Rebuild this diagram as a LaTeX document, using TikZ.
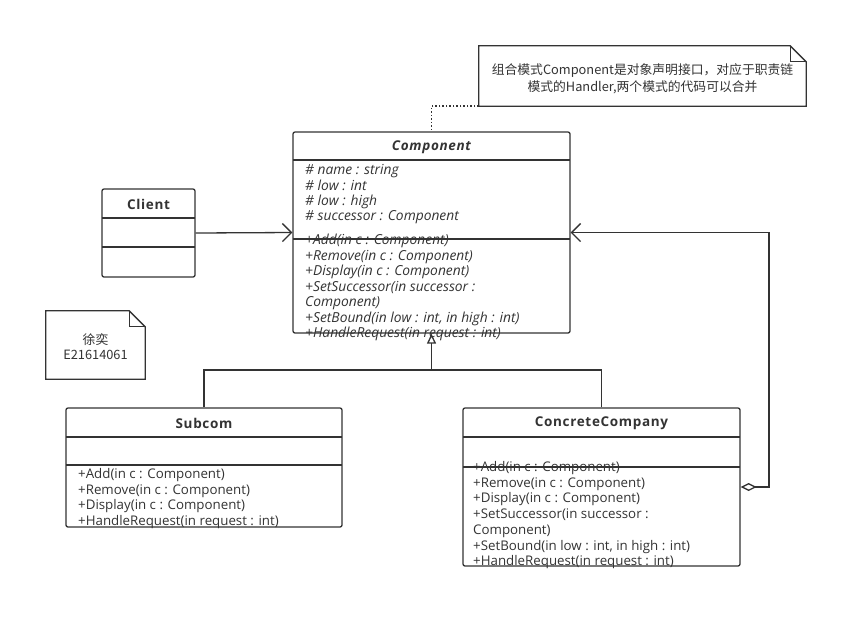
\documentclass[tikz,border=0pt]{standalone}
\usepackage{fontspec}
\setmainfont{Open Sans}
\newfontfamily\cjk{Noto Sans CJK SC}
\usetikzlibrary{arrows.meta}
\definecolor{ink}{HTML}{333333}
\tikzset{
  cls/.style={draw=ink, line width=1.3pt, rounded corners=2pt, rectangle, inner sep=0pt},
  sep/.style={draw=ink, line width=1.3pt},
  ttl/.style={font=\fontsize{13.5}{15}\selectfont\bfseries\addfontfeature{LetterSpace=5}, text=ink, inner sep=0pt},
  mem/.style={font=\fontsize{13.3}{15}\selectfont, text=ink, inner sep=0pt, anchor=base west},
  imem/.style={mem, font=\fontsize{13.8}{15}\selectfont\itshape},
  conn/.style={draw=ink, line width=1.3pt},
  notetxt/.style={font=\cjk\fontsize{12.8}{14}\selectfont, text=ink, inner sep=0pt}
}
\begin{document}
\begin{tikzpicture}[x=1pt,y=-1pt]
\useasboundingbox[fill=white] (0,0) rectangle (864,625);

% Component
\node[cls, minimum width=277pt, minimum height=201pt] (comp) at (431.5,232.5) {};
\draw[sep] (293,160) -- (570,160);
\draw[sep] (293,239) -- (570,239);
\node[ttl, font=\fontsize{13.5}{15}\selectfont\bfseries\itshape\addfontfeature{LetterSpace=5}] (compt) at (431.5,147) {Component};
\foreach \t [count=\i] in {{\# name : string},{\# low : int},{\# low : high},{\# successor : Component}}
  \node[imem] (ca\i) at (305,159.2+15.4*\i) {\t};
\foreach \t [count=\i] in {{+Add(in c : Component)},{+Remove(in c : Component)},{+Display(in c : Component)},{+SetSuccessor(in successor :},{Component)},{+SetBound(in low : int, in high : int)},{+HandleRequest(in request : int)}}
  \node[imem] (cm\i) at (305,229+15.5*\i) {\t};

% Client
\node[cls, minimum width=93pt, minimum height=88pt] (client) at (148.5,233) {};
\draw[sep] (102,218) -- (195,218);
\draw[sep] (102,247) -- (195,247);
\node[ttl] (clientt) at (148.5,204) {Client};

% Subcom
\node[cls, minimum width=276pt, minimum height=119pt] (sub) at (204,467.5) {};
\draw[sep] (66,437) -- (342,437);
\draw[sep] (66,465) -- (342,465);
\node[ttl] (subt) at (204,423) {Subcom};
\foreach \t [count=\i] in {{+Add(in c : Component)},{+Remove(in c : Component)},{+Display(in c : Component)},{+HandleRequest(in request : int)}}
  \node[mem] (sm\i) at (78,463+15.5*\i) {\t};

% ConcreteCompany
\node[cls, minimum width=277pt, minimum height=158pt] (conc) at (601.5,487) {};
\draw[sep] (463,437) -- (740,437);
\draw[sep] (463,467) -- (740,467);
\node[ttl] (conct) at (601.5,423) {ConcreteCompany};
\foreach \t [count=\i] in {{+Add(in c : Component)},{+Remove(in c : Component)},{+Display(in c : Component)},{+SetSuccessor(in successor :},{Component)},{+SetBound(in low : int, in high : int)},{+HandleRequest(in request : int)}}
  \node[mem] (km\i) at (473,455.8+15.7*\i) {\t};

% Note 1
\node[minimum width=327pt, minimum height=60pt, inner sep=0pt] (n1) at (642.5,76) {};
\draw[conn] (n1.south west) -- (n1.north west) -- ([xshift=-16pt]n1.north east) -- ([yshift=-16pt]n1.north east) -- (n1.south east) -- cycle;
\draw[conn] ([xshift=-16pt]n1.north east) -- ([xshift=-16pt,yshift=-16pt]n1.north east) -- ([yshift=-16pt]n1.north east);
\node[notetxt] (n1a) at (642.5,71) {组合模式Component是对象声明接口，对应于职责链};
\node[notetxt] (n1b) at (642.5,87) {模式的Handler,两个模式的代码可以合并};

% Note 2
\node[minimum width=99pt, minimum height=68pt, inner sep=0pt] (n2) at (95.5,345) {};
\draw[conn] (n2.south west) -- (n2.north west) -- ([xshift=-16pt]n2.north east) -- ([yshift=-16pt]n2.north east) -- (n2.south east) -- cycle;
\draw[conn] ([xshift=-16pt]n2.north east) -- ([xshift=-16pt,yshift=-16pt]n2.north east) -- ([yshift=-16pt]n2.north east);
\node[notetxt] (n2a) at (95.5,340) {徐奕};
\node[notetxt] (n2b) at (95.5,355) {E21614061};

% Connectors
\draw[conn, line width=1.5pt, dotted] (n1.south west) -| (comp.north);
\draw[conn, -{Straight Barb[length=9pt,width=18pt]}] (client.east) -- (comp.west);
\coordinate (j) at (431.5,370);
\draw[conn] (sub.north) |- (j);
\draw[conn] (conc.north) |- (j);
\draw[conn, -{Triangle[open,length=10pt,width=9pt]}] (j) -- (comp.south);
\coordinate (a1) at (769,487);
\coordinate (a2) at (769,232.5);
\draw[conn, {Diamond[open,length=16pt,width=8pt]}-{Straight Barb[length=9pt,width=18pt]}] (conc.east) -- (a1) -- (a2) -- (comp.east);
\end{tikzpicture}
\end{document}
